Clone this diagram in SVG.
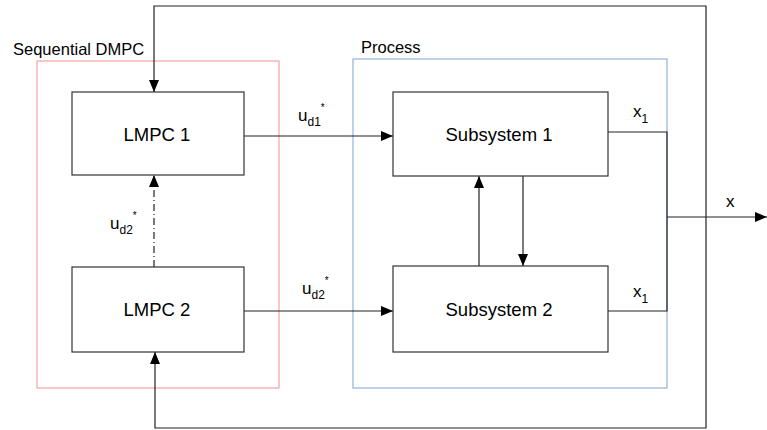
<svg xmlns="http://www.w3.org/2000/svg" width="767" height="430" viewBox="0 0 767 430">
  <style>
    .blk { fill: #ffffff; stroke: #333333; stroke-width: 1.2; }
    .wire { fill: none; stroke: #222222; stroke-width: 1.2; }
    .lbl { font-family: "Liberation Sans", Arial, sans-serif; font-size: 18.5px; fill: #000000; }
    .cap { font-family: "Liberation Sans", Arial, sans-serif; font-size: 16.5px; fill: #000000; }
    .sig { font-family: "Liberation Sans", Arial, sans-serif; font-size: 17px; fill: #000000; }
    .sub { font-size: 12px; }
    .star { font-size: 10px; }
  </style>
  <defs>
    <marker id="arr" viewBox="0 0 12 10" refX="12" refY="5" markerWidth="12" markerHeight="10" markerUnits="userSpaceOnUse" orient="auto">
      <path d="M0,0 L12,5 L0,10 z" fill="#000000"/>
    </marker>
  </defs>

  <rect width="767" height="430" fill="#ffffff"/>

  <!-- grouping frames -->
  <g id="sequential-dmpc">
    <rect x="37" y="61" width="242" height="327" fill="none" stroke="#f4a3a3" stroke-width="1.2"/>
    <text class="cap" x="13" y="55">Sequential DMPC</text>
  </g>
  <g id="process">
    <rect x="353" y="59" width="314" height="329" fill="none" stroke="#92b2da" stroke-width="1.2"/>
    <text class="cap" x="361" y="53">Process</text>
  </g>

  <!-- connectors -->
  <g id="connectors">
    <!-- feedback of x to LMPC 1 (top) -->
    <polyline class="wire" points="706,217 706,6 154,6 154,92" marker-end="url(#arr)"/>
    <!-- feedback of x to LMPC 2 (bottom) -->
    <polyline class="wire" points="706,217 706,428 155,428 155,352" marker-end="url(#arr)"/>
    <!-- LMPC 2 to LMPC 1 -->
    <line class="wire" x1="154" y1="267" x2="154" y2="175" stroke-dasharray="7,3,1,3" marker-end="url(#arr)"/>
    <!-- controls -->
    <line class="wire" x1="244" y1="136" x2="393" y2="136" marker-end="url(#arr)"/>
    <line class="wire" x1="244" y1="311" x2="393" y2="311" marker-end="url(#arr)"/>
    <!-- subsystem coupling -->
    <line class="wire" x1="479" y1="266" x2="479" y2="176" marker-end="url(#arr)"/>
    <line class="wire" x1="523" y1="176" x2="523" y2="266" marker-end="url(#arr)"/>
    <!-- outputs -->
    <polyline class="wire" points="608,132 667,132 667,311 608,311"/>
    <line class="wire" x1="667" y1="217" x2="767" y2="217" marker-end="url(#arr)"/>
  </g>

  <!-- signal labels -->
  <g id="signal-labels">
    <text class="sig" x="298" y="121">u<tspan class="sub" dy="5">d1</tspan><tspan class="star" dy="-15">*</tspan></text>
    <text class="sig" x="302" y="294">u<tspan class="sub" dy="5">d2</tspan><tspan class="star" dy="-15">*</tspan></text>
    <text class="sig" x="110" y="229">u<tspan class="sub" dy="5">d2</tspan><tspan class="star" dy="-15">*</tspan></text>
    <text class="sig" x="633" y="117">x<tspan class="sub" dy="6">1</tspan></text>
    <text class="sig" x="633" y="297">x<tspan class="sub" dy="6">1</tspan></text>
    <text class="sig" x="726" y="207">x</text>
  </g>

  <!-- blocks -->
  <g id="lmpc1">
    <rect class="blk" x="72" y="92" width="172" height="83"/>
    <text class="lbl" x="157" y="141" text-anchor="middle">LMPC 1</text>
  </g>
  <g id="lmpc2">
    <rect class="blk" x="72" y="267" width="172" height="85"/>
    <text class="lbl" x="157" y="316" text-anchor="middle">LMPC 2</text>
  </g>
  <g id="subsystem1">
    <rect class="blk" x="393" y="92" width="215" height="84"/>
    <text class="lbl" x="499" y="141" text-anchor="middle">Subsystem 1</text>
  </g>
  <g id="subsystem2">
    <rect class="blk" x="393" y="266" width="215" height="86"/>
    <text class="lbl" x="499" y="316" text-anchor="middle">Subsystem 2</text>
  </g>
</svg>
